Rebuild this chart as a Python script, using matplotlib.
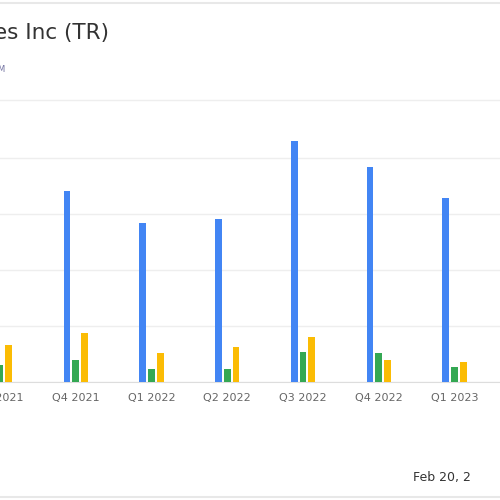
import numpy as np
import matplotlib.pyplot as plt

quarters = ['Q3 2021', 'Q4 2021', 'Q1 2022', 'Q2 2022', 'Q3 2022', 'Q4 2022', 'Q1 2023']
blue = [3.0, 3.41, 2.84, 2.91, 4.30, 3.84, 3.29]
green = [0.30, 0.39, 0.23, 0.23, 0.54, 0.52, 0.27]
yellow = [0.66, 0.88, 0.52, 0.63, 0.80, 0.39, 0.36]

fig = plt.figure(figsize=(5, 5), dpi=100)
ax = fig.add_axes([0, 0.236, 1, 0.56])
x = np.arange(len(quarters))
w = 0.09
ax.bar(x - 0.115, blue, w, color='#4285f4', zorder=3)
ax.bar(x, green, w, color='#34a853', zorder=3)
ax.bar(x + 0.115, yellow, w, color='#fbbc04', zorder=3)
ax.set_xlim(0.30, 6.60)
ax.set_ylim(0, 5)
ax.set_yticks([0, 1, 2, 3, 4])
ax.set_yticklabels([])
ax.grid(axis='y', color='#eeeeee', lw=1, zorder=0)
ax.set_xticks(x)
ax.set_xticklabels(quarters, fontsize=8, color='#666666')
ax.tick_params(length=0, pad=8)
for s in ['top', 'right', 'left']:
    ax.spines[s].set_visible(False)
ax.spines['bottom'].set_color('#dddddd')

fig.text(-0.012, 0.935, 'es Inc (TR)', fontsize=15.5, color='#333333', va='center')
fig.text(-0.005, 0.86, 'M', fontsize=6, color='#7070a0', va='center')
fig.text(0.826, 0.044, 'Feb 20, 2', fontsize=9, color='#333333', va='center')
fig.add_artist(plt.Line2D([0, 1], [0.994, 0.994], color='#e8e8e8', lw=1.5))
fig.add_artist(plt.Line2D([0, 1], [0.8, 0.8], color='#eeeeee', lw=1))
fig.add_artist(plt.Line2D([0, 1], [0.006, 0.006], color='#e8e8e8', lw=1.5))

fig.savefig('out.png')
